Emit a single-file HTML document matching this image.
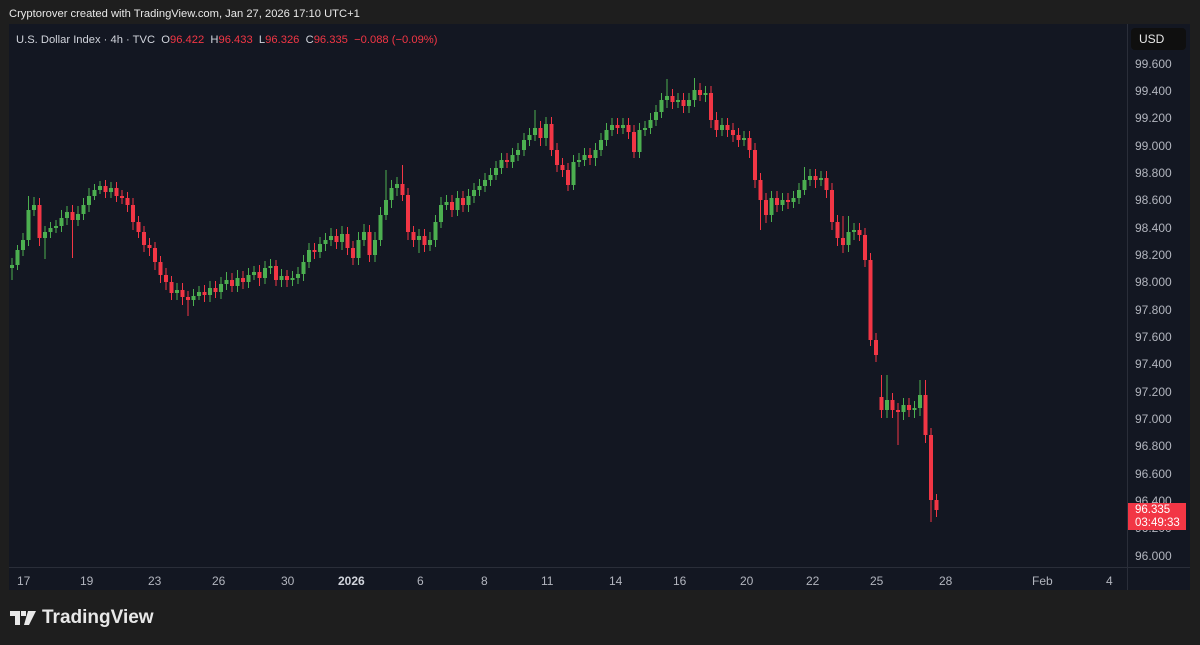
<!DOCTYPE html>
<html><head><meta charset="utf-8"><style>
html,body{margin:0;padding:0;background:#1e1e1e;width:1200px;height:645px;overflow:hidden;font-family:"Liberation Sans",sans-serif}
#hdr{position:absolute;left:9px;top:8px;color:#e8e8e8;font-size:11.2px}
#panel{position:absolute;left:9px;top:24px;width:1181px;height:566px;background:#131722}
#leg{position:absolute;left:16px;top:34px;color:#d1d4dc;font-size:11.2px;white-space:pre}
#leg .r{color:#f23645}
.pl{position:absolute;left:1135px;color:#b2b5be;font-size:12px}
.tl{position:absolute;top:574px;color:#b2b5be;font-size:12px}
#usd{position:absolute;left:1131px;top:28px;width:55px;height:22px;background:#0f0f0f;border-radius:4px;color:#e8e8e8;font-size:12px;line-height:22px;padding-left:8px;box-sizing:border-box}
#tag{position:absolute;left:1128px;top:503px;width:58px;height:27px;background:#f23645;color:#fff;font-size:11.5px;line-height:13px;padding:1px 0 0 7px;box-sizing:border-box}
#logo{position:absolute;left:10px;top:607px;color:#e8e8e8;font-size:19px;font-weight:bold;display:flex;align-items:center;gap:6px}
</style></head><body>
<div id="hdr">Cryptorover created with TradingView.com, Jan 27, 2026 17:10 UTC+1</div>
<div id="panel"></div>
<svg width="1200" height="645" style="position:absolute;left:0;top:0">
<line x1="1127.5" y1="24" x2="1127.5" y2="590" stroke="#2a2e39"/>
<line x1="9" y1="567.5" x2="1190" y2="567.5" stroke="#2a2e39"/>
<g fill="#4caf50">
<rect x="10" y="265" width="4" height="3"/><rect x="15.5" y="250" width="4" height="15"/><rect x="21" y="240" width="4" height="10"/><rect x="26.5" y="210" width="4" height="30"/><rect x="32" y="205" width="4" height="5"/><rect x="43" y="232" width="4" height="6"/><rect x="48.5" y="228" width="4" height="4"/><rect x="54" y="226" width="4" height="2"/><rect x="59.5" y="218" width="4" height="8"/><rect x="65" y="212" width="4" height="6"/><rect x="76" y="214" width="4" height="6"/><rect x="81.5" y="205" width="4" height="9"/><rect x="87" y="196" width="4" height="9"/><rect x="92.5" y="190" width="4" height="6"/><rect x="98" y="186" width="4" height="4"/><rect x="109" y="188" width="4" height="4"/><rect x="175" y="290" width="4" height="3"/><rect x="191.5" y="296" width="4" height="4"/><rect x="197" y="292" width="4" height="4"/><rect x="208" y="288" width="4" height="7"/><rect x="219" y="284" width="4" height="8"/><rect x="224.5" y="280" width="4" height="4"/><rect x="235.5" y="278" width="4" height="8"/><rect x="246.5" y="275" width="4" height="7"/><rect x="252" y="272" width="4" height="3"/><rect x="263" y="268" width="4" height="10"/><rect x="268.5" y="266" width="4" height="2"/><rect x="279.5" y="276" width="4" height="4"/><rect x="290.5" y="278" width="4" height="2"/><rect x="296" y="274" width="4" height="4"/><rect x="301.5" y="262" width="4" height="12"/><rect x="307" y="250" width="4" height="12"/><rect x="318" y="244" width="4" height="8"/><rect x="323.5" y="240" width="4" height="4"/><rect x="329" y="236" width="4" height="4"/><rect x="340" y="234" width="4" height="8"/><rect x="356.5" y="240" width="4" height="18"/><rect x="362" y="232" width="4" height="8"/><rect x="373" y="240" width="4" height="15"/><rect x="378.5" y="215" width="4" height="25"/><rect x="384" y="200" width="4" height="15"/><rect x="389.5" y="188" width="4" height="12"/><rect x="395" y="184" width="4" height="4"/><rect x="417" y="236" width="4" height="4"/><rect x="428" y="240" width="4" height="5"/><rect x="433.5" y="222" width="4" height="18"/><rect x="439" y="205" width="4" height="17"/><rect x="444.5" y="202" width="4" height="3"/><rect x="455.5" y="198" width="4" height="12"/><rect x="466.5" y="196" width="4" height="9"/><rect x="472" y="190" width="4" height="6"/><rect x="477.5" y="186" width="4" height="4"/><rect x="483" y="180" width="4" height="6"/><rect x="488.5" y="175" width="4" height="5"/><rect x="494" y="168" width="4" height="7"/><rect x="499.5" y="160" width="4" height="8"/><rect x="510.5" y="155" width="4" height="7"/><rect x="516" y="150" width="4" height="5"/><rect x="522" y="140" width="4" height="10"/><rect x="527.5" y="135" width="4" height="5"/><rect x="533" y="128" width="4" height="7"/><rect x="544" y="124" width="4" height="14"/><rect x="571.5" y="162" width="4" height="23"/><rect x="577" y="160" width="4" height="2"/><rect x="582.5" y="155" width="4" height="5"/><rect x="593.5" y="150" width="4" height="8"/><rect x="599" y="140" width="4" height="10"/><rect x="604.5" y="130" width="4" height="10"/><rect x="610" y="125" width="4" height="5"/><rect x="621" y="125" width="4" height="3"/><rect x="637.5" y="130" width="4" height="22"/><rect x="643" y="128" width="4" height="2"/><rect x="648.5" y="120" width="4" height="8"/><rect x="654" y="112" width="4" height="8"/><rect x="659.5" y="100" width="4" height="12"/><rect x="665" y="96" width="4" height="4"/><rect x="676" y="100" width="4" height="2"/><rect x="687" y="100" width="4" height="6"/><rect x="692.5" y="90" width="4" height="10"/><rect x="703.5" y="93" width="4" height="2"/><rect x="720" y="125" width="4" height="5"/><rect x="742" y="138" width="4" height="2"/><rect x="769.5" y="198" width="4" height="17"/><rect x="780.5" y="200" width="4" height="5"/><rect x="791.5" y="198" width="4" height="4"/><rect x="797" y="190" width="4" height="8"/><rect x="802.5" y="180" width="4" height="10"/><rect x="808" y="176" width="4" height="4"/><rect x="819" y="178" width="4" height="2"/><rect x="846.5" y="232" width="4" height="13"/><rect x="852" y="230" width="4" height="2"/><rect x="885" y="400" width="4" height="10"/><rect x="901.5" y="405" width="4" height="7"/><rect x="912.5" y="408" width="4" height="2"/><rect x="918" y="395" width="4" height="13"/>
</g>
<path stroke="#4caf50" stroke-width="1" fill="none" d="M12 258V280M17.5 245V270M23 233V256M28.5 196V246M34 197V216M45 226V259M50.5 222V238M56 220V233M61.5 210V232M67 206V225M78 206V226M83.5 198V220M89 188V212M94.5 184V200M100 181V194M111 182V198M177 283V300M193.5 289V306M199 286V300M210 281V302M221 277V299M226.5 272V290M237.5 270V292M248.5 268V288M254 266V280M265 261V284M270.5 259V274M281.5 269V287M292.5 271V286M298 267V284M303.5 255V281M309 243V268M320 237V258M325.5 233V251M331 228V246M342 226V250M358.5 232V265M364 224V246M375 232V262M380.5 207V246M386 170V220M391.5 180V208M397 177V196M419 229V253M430 232V251M435.5 215V247M441 197V228M446.5 195V210M457.5 191V216M468.5 189V212M474 183V203M479.5 179V196M485 173V192M490.5 168V186M496 161V180M501.5 153V174M512.5 148V168M518 143V161M524 133V156M529.5 128V146M535 110V141M546 117V146M573.5 155V190M579 153V167M584.5 148V166M595.5 143V166M601 133V156M606.5 123V146M612 118V136M623 118V134M639.5 123V158M645 121V136M650.5 113V134M656 105V126M661.5 93V118M667 79V108M678 93V108M689 93V113M694.5 78V107M705.5 86V102M722 118V136M744 131V146M771.5 191V222M782.5 193V211M793.5 191V208M799 183V204M804.5 167V195M810 169V186M821 171V186M848.5 216V252M854 223V240M887 375V418M903.5 398V420M914.5 401V418M920 380V416"/>
<g fill="#f23645">
<rect x="37.5" y="205" width="4" height="33"/><rect x="70.5" y="212" width="4" height="8"/><rect x="103.5" y="186" width="4" height="6"/><rect x="114.5" y="188" width="4" height="8"/><rect x="120" y="196" width="4" height="2"/><rect x="125.5" y="198" width="4" height="7"/><rect x="131" y="205" width="4" height="17"/><rect x="136.5" y="222" width="4" height="10"/><rect x="142" y="232" width="4" height="13"/><rect x="147.5" y="245" width="4" height="3"/><rect x="153" y="248" width="4" height="14"/><rect x="158.5" y="262" width="4" height="13"/><rect x="164" y="275" width="4" height="7"/><rect x="169.5" y="282" width="4" height="11"/><rect x="180.5" y="290" width="4" height="7"/><rect x="186" y="297" width="4" height="3"/><rect x="202.5" y="292" width="4" height="3"/><rect x="213.5" y="288" width="4" height="4"/><rect x="230" y="280" width="4" height="6"/><rect x="241" y="278" width="4" height="4"/><rect x="257.5" y="272" width="4" height="6"/><rect x="274" y="266" width="4" height="14"/><rect x="285" y="276" width="4" height="4"/><rect x="312.5" y="250" width="4" height="2"/><rect x="334.5" y="236" width="4" height="6"/><rect x="345.5" y="234" width="4" height="14"/><rect x="351" y="248" width="4" height="10"/><rect x="367.5" y="232" width="4" height="23"/><rect x="400.5" y="184" width="4" height="11"/><rect x="406" y="195" width="4" height="37"/><rect x="411.5" y="232" width="4" height="8"/><rect x="422.5" y="236" width="4" height="9"/><rect x="450" y="202" width="4" height="8"/><rect x="461" y="198" width="4" height="7"/><rect x="505" y="160" width="4" height="2"/><rect x="538.5" y="128" width="4" height="10"/><rect x="549.5" y="124" width="4" height="26"/><rect x="555" y="150" width="4" height="15"/><rect x="560.5" y="165" width="4" height="5"/><rect x="566" y="170" width="4" height="15"/><rect x="588" y="155" width="4" height="3"/><rect x="615.5" y="125" width="4" height="3"/><rect x="626.5" y="125" width="4" height="7"/><rect x="632" y="132" width="4" height="20"/><rect x="670.5" y="96" width="4" height="6"/><rect x="681.5" y="100" width="4" height="6"/><rect x="698" y="90" width="4" height="5"/><rect x="709" y="93" width="4" height="27"/><rect x="714.5" y="120" width="4" height="10"/><rect x="725.5" y="125" width="4" height="5"/><rect x="731" y="130" width="4" height="5"/><rect x="736.5" y="135" width="4" height="5"/><rect x="747.5" y="138" width="4" height="12"/><rect x="753" y="150" width="4" height="30"/><rect x="758.5" y="180" width="4" height="20"/><rect x="764" y="200" width="4" height="15"/><rect x="775" y="198" width="4" height="7"/><rect x="786" y="200" width="4" height="2"/><rect x="813.5" y="176" width="4" height="4"/><rect x="824.5" y="178" width="4" height="12"/><rect x="830" y="190" width="4" height="32"/><rect x="835.5" y="222" width="4" height="16"/><rect x="841" y="238" width="4" height="7"/><rect x="857.5" y="230" width="4" height="5"/><rect x="863" y="235" width="4" height="25"/><rect x="868.5" y="260" width="4" height="80"/><rect x="874" y="340" width="4" height="15"/><rect x="879.5" y="397" width="4" height="13"/><rect x="890.5" y="400" width="4" height="10"/><rect x="896" y="410" width="4" height="2"/><rect x="907" y="405" width="4" height="5"/><rect x="923.5" y="395" width="4" height="40"/><rect x="929" y="435" width="4" height="65"/><rect x="934.5" y="500" width="4" height="10"/>
</g>
<path stroke="#f23645" stroke-width="1" fill="none" d="M39.5 198V246M72.5 205V258M105.5 180V198M116.5 182V202M122 190V204M127.5 192V212M133 198V230M138.5 216V238M144 226V252M149.5 238V256M155 242V270M160.5 256V283M166 268V290M171.5 276V300M182.5 283V305M188 291V316M204.5 285V302M215.5 281V298M232 273V292M243 271V289M259.5 265V286M276 260V286M287 270V287M314.5 243V259M336.5 229V249M347.5 227V255M353 241V265M369.5 225V262M402.5 165V201M408 188V240M413.5 226V247M424.5 229V252M452 195V217M463 191V212M507 153V168M540.5 121V146M551.5 117V156M557 143V172M562.5 158V177M568 163V191M590 148V165M617.5 118V134M628.5 118V139M634 125V158M672.5 89V109M683.5 93V113M700 83V101M711 86V128M716.5 112V137M727.5 118V137M733 123V142M738.5 128V147M749.5 131V158M755 143V188M760.5 173V230M766 193V223M777 191V212M788 193V209M815.5 169V188M826.5 171V198M832 183V230M837.5 215V246M843 216V253M859.5 223V241M865 228V267M870.5 253V346M876 333V362M881.5 375V418M892.5 393V418M898 403V445M909 398V417M925.5 380V443M931 428V522M936.5 494V517"/>
</svg>
<div id="leg">U.S. Dollar Index · 4h · TVC  O<span class="r">96.422</span>  H<span class="r">96.433</span>  L<span class="r">96.326</span>  C<span class="r">96.335</span>  <span class="r">−0.088 (−0.09%)</span></div>
<div id="usd">USD</div>
<div class="pl" style="top:57px">99.600</div>
<div class="pl" style="top:84px">99.400</div>
<div class="pl" style="top:111px">99.200</div>
<div class="pl" style="top:139px">99.000</div>
<div class="pl" style="top:166px">98.800</div>
<div class="pl" style="top:193px">98.600</div>
<div class="pl" style="top:221px">98.400</div>
<div class="pl" style="top:248px">98.200</div>
<div class="pl" style="top:275px">98.000</div>
<div class="pl" style="top:303px">97.800</div>
<div class="pl" style="top:330px">97.600</div>
<div class="pl" style="top:357px">97.400</div>
<div class="pl" style="top:385px">97.200</div>
<div class="pl" style="top:412px">97.000</div>
<div class="pl" style="top:439px">96.800</div>
<div class="pl" style="top:467px">96.600</div>
<div class="pl" style="top:494px">96.400</div>
<div class="pl" style="top:521px">96.200</div>
<div class="pl" style="top:549px">96.000</div>
<div id="tag">96.335<br>03:49:33</div>
<div class="tl" style="left:17px">17</div>
<div class="tl" style="left:80px">19</div>
<div class="tl" style="left:148px">23</div>
<div class="tl" style="left:212px">26</div>
<div class="tl" style="left:281px">30</div>
<div class="tl" style="left:338px;font-weight:bold;color:#d1d4dc">2026</div>
<div class="tl" style="left:417px">6</div>
<div class="tl" style="left:481px">8</div>
<div class="tl" style="left:541px">11</div>
<div class="tl" style="left:609px">14</div>
<div class="tl" style="left:673px">16</div>
<div class="tl" style="left:740px">20</div>
<div class="tl" style="left:806px">22</div>
<div class="tl" style="left:870px">25</div>
<div class="tl" style="left:939px">28</div>
<div class="tl" style="left:1032px">Feb</div>
<div class="tl" style="left:1106px">4</div>
<div id="logo"><svg width="26" height="16" viewBox="0 0 26 16"><path d="M0 1h10v14H5V6H0z M11 1h5v5h-5z M18 1h8l-7 14h-5z" fill="#e8e8e8"/></svg>TradingView</div>
</body></html>
